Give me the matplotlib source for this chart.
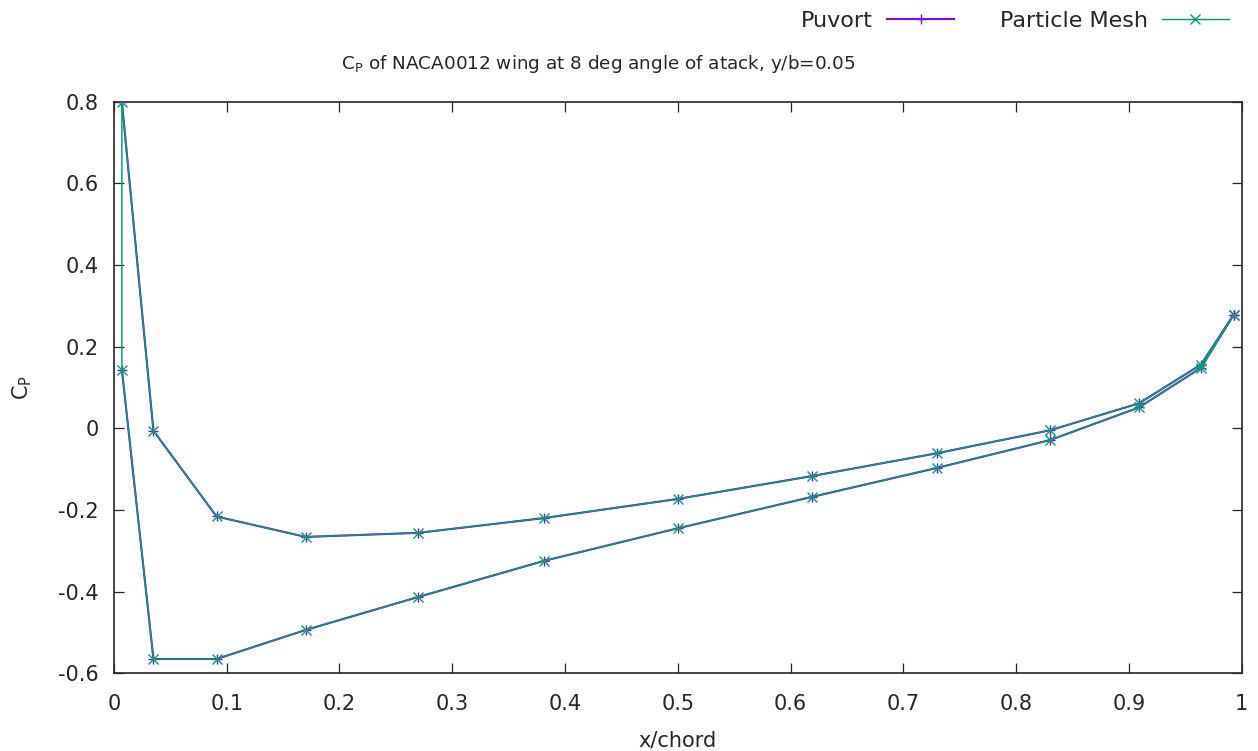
import matplotlib
matplotlib.use("Agg")
import matplotlib.pyplot as plt
from matplotlib.ticker import FixedLocator, FuncFormatter
import numpy as np

# Chordwise stations (cosine spacing) and pressure coefficients
x_chord = [0.007, 0.035, 0.091, 0.170, 0.270, 0.381, 0.500,
           0.619, 0.730, 0.830, 0.909, 0.964, 0.993]
cp_pressure_side = [0.800, -0.006, -0.216, -0.266, -0.256, -0.220, -0.173,
                    -0.117, -0.061, -0.005, 0.061, 0.156, 0.278]
cp_suction_side = [0.144, -0.565, -0.565, -0.494, -0.413, -0.325, -0.245,
                   -0.168, -0.097, -0.029, 0.051, 0.148, 0.278]

series_names = ["Puvort", "Particle Mesh"]
x_ticks = [0, 0.1, 0.2, 0.3, 0.4, 0.5, 0.6, 0.7, 0.8, 0.9, 1]
y_ticks = [-0.6, -0.4, -0.2, 0, 0.2, 0.4, 0.6, 0.8]

PURPLE = "#9400D3"
GREEN = "#009E73"
INK = "#262626"
FS = 15

fig = plt.figure(figsize=(12.58, 7.51), dpi=100)
ax = fig.add_axes([0.0906, 0.1035, 0.8963, 0.7611])

# Puvort: two separate surface traces (no link across the leading edge)
xs_p = list(x_chord) + [np.nan] + list(x_chord)
ys_p = list(cp_pressure_side) + [np.nan] + list(cp_suction_side)
# Particle Mesh: one closed walk TE -> LE -> TE
xs_m = list(x_chord[::-1]) + list(x_chord)
ys_m = list(cp_pressure_side[::-1]) + list(cp_suction_side)

l1, = ax.plot(xs_p, ys_p, color=PURPLE, lw=1.5, marker="+", ms=7.5,
              mew=1.0, label=series_names[0], zorder=3)
l2, = ax.plot(xs_m, ys_m, color=GREEN, lw=1.05, marker="x", ms=6.5,
              mew=1.0, label=series_names[1], zorder=4)

ax.set_xlim(0, 1)
ax.set_ylim(-0.6, 0.8)
ax.xaxis.set_major_locator(FixedLocator(x_ticks))
ax.yaxis.set_major_locator(FixedLocator(y_ticks))
fmt = FuncFormatter(lambda v, pos: "%g" % round(v, 3))
ax.xaxis.set_major_formatter(fmt)
ax.yaxis.set_major_formatter(fmt)

ax.tick_params(direction="in", length=7.5, width=0.9, top=True, right=True,
               labelsize=FS, colors=INK)
ax.tick_params(axis="x", pad=15)
ax.tick_params(axis="y", pad=11)
for s in ax.spines.values():
    s.set_linewidth(1.2)
    s.set_color(INK)

ax.set_xlabel("x/chord", fontsize=FS, color=INK)
ax.xaxis.set_label_coords(0.5, -0.100)
ax.set_ylabel(r"C$_\mathrm{P}$", fontsize=FS, color=INK)
ax.yaxis.set_label_coords(-0.071, 0.5)

fig.text(598.5 / 1258, 1 - 64 / 751,
         r"C$_\mathrm{P}$ of NACA0012 wing at 8 deg angle of atack, y/b=0.05",
         ha="center", va="center", fontsize=13.2, color=INK)

leg = fig.legend(handles=[l1, l2], loc="upper right", ncol=2,
                 bbox_to_anchor=(1228.5 / 1258, 0.985), frameon=False,
                 markerfirst=False, numpoints=1, handlelength=3.0,
                 handletextpad=0.63, columnspacing=2.07, borderpad=0,
                 borderaxespad=0, fontsize=16)
for t in leg.get_texts():
    t.set_color(INK)

fig.savefig("out.png", dpi=100)
